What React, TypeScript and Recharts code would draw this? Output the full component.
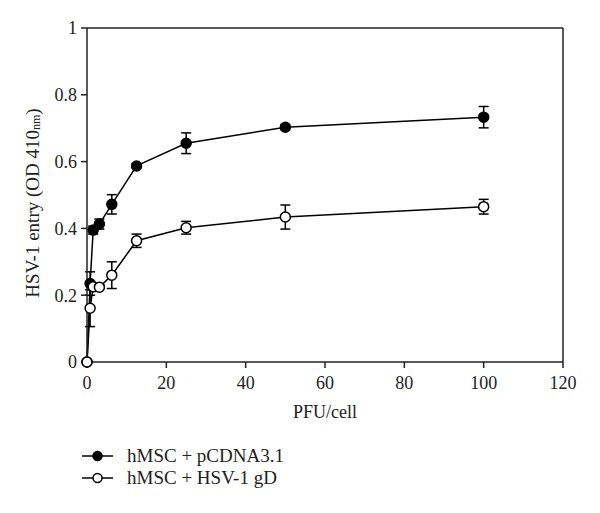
import { ErrorBar, Label, Line, LineChart, ReferenceLine, XAxis, YAxis } from "recharts";

// PFU per cell (two-fold dilutions)
const doses = [0, 0.78, 1.56, 3.125, 6.25, 12.5, 25, 50, 100];

// hMSC + pCDNA3.1
const controlOD = [0.0, 0.235, 0.395, 0.413, 0.472, 0.587, 0.655, 0.703, 0.733];
const controlErr = [0, 0.035, 0.012, 0.015, 0.029, 0.006, 0.031, 0.008, 0.032];

// hMSC + HSV-1 gD
const gdOD = [0.0, 0.161, 0.225, 0.224, 0.26, 0.363, 0.402, 0.434, 0.465];
const gdErr = [0, 0.055, 0.008, 0.006, 0.04, 0.02, 0.019, 0.036, 0.022];

const xTicks = [0, 20, 40, 60, 80, 100, 120];
const yTicks = [0, 0.2, 0.4, 0.6, 0.8, 1];

const legendItems = [
  { name: "hMSC + pCDNA3.1", fill: "#000" },
  { name: "hMSC + HSV-1 gD", fill: "#fff" },
];

const rows = doses.map((x, i) => ({
  x,
  control: controlOD[i],
  controlErr: controlErr[i],
  gd: gdOD[i],
  gdErr: gdErr[i],
}));

const FONT = '"Liberation Serif", "Times New Roman", serif';
const INK = "#222";
const tickStyle = { fill: INK, fontSize: 18, fontFamily: FONT };

function YLabel({ viewBox }: any) {
  const cx = 24;
  const cy = viewBox.y + viewBox.height / 2 + 8;
  return (
    <text
      x={cx}
      y={cy}
      transform={`rotate(-90 ${cx} ${cy})`}
      textAnchor="middle"
      dominantBaseline="central"
      fontFamily={FONT}
      fontSize={19}
      fill={INK}
    >
      HSV-1 entry (OD 410
      <tspan fontSize={12} dy={4}>nm</tspan>
      <tspan dy={-4}>)</tspan>
    </text>
  );
}

export default function App() {
  return (
    <div style={{ position: "relative", width: 584, height: 497, fontFamily: FONT }}>
      <LineChart
        width={584}
        height={497}
        data={rows}
        margin={{ top: 20, right: 29, left: 0, bottom: 83 }}
      >
        <XAxis
          type="number"
          dataKey="x"
          domain={[0, 120]}
          ticks={xTicks}
          height={60}
          tick={tickStyle}
          tickMargin={8}
          tickSize={6}
          stroke={INK}
          strokeWidth={1.5}
        >
          <Label
            value="PFU/cell"
            position="insideBottom"
            offset={4}
            style={{ fill: INK, fontSize: 18, fontFamily: FONT }}
          />
        </XAxis>
        <YAxis
          type="number"
          domain={[0, 1]}
          ticks={yTicks}
          width={79}
          tick={tickStyle}
          tickMargin={4}
          tickSize={6}
          stroke={INK}
          strokeWidth={1.5}
          label={{ content: YLabel }}
        />
        {/* top and right frame lines */}
        <ReferenceLine y={1} stroke={INK} strokeWidth={1.5} />
        <ReferenceLine x={120} stroke={INK} strokeWidth={1.5} />
        <Line
          type="linear"
          dataKey="control"
          stroke="#000"
          strokeWidth={1.5}
          dot={{ r: 5, fill: "#000", stroke: "#000", strokeWidth: 1.5 }}
          activeDot={false}
          isAnimationActive={false}
        >
          <ErrorBar dataKey="controlErr" direction="y" width={5} stroke="#000" strokeWidth={1.5} />
        </Line>
        <Line
          type="linear"
          dataKey="gd"
          stroke="#000"
          strokeWidth={1.5}
          dot={{ r: 5, fill: "#fff", stroke: "#000", strokeWidth: 1.5 }}
          activeDot={false}
          isAnimationActive={false}
        >
          <ErrorBar dataKey="gdErr" direction="y" width={5} stroke="#000" strokeWidth={1.5} />
        </Line>
      </LineChart>
      <div style={{ position: "absolute", left: 74, top: 437 }}>
        {legendItems.map((item) => (
          <div key={item.name} style={{ display: "flex", alignItems: "center", height: 22 }}>
            <svg width={32} height={14}>
              <line x1={0} y1={7} x2={31} y2={7} stroke="#000" strokeWidth={1.5} />
              <circle cx={15.5} cy={7} r={4.5} fill={item.fill} stroke="#000" strokeWidth={1.5} />
            </svg>
            <span style={{ marginLeft: 13, fontSize: 19, color: INK }}>{item.name}</span>
          </div>
        ))}
      </div>
    </div>
  );
}
